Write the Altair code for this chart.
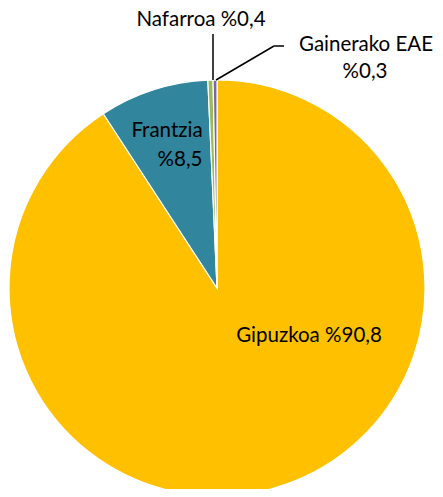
import altair as alt
import pandas as pd

regions = ["Gipuzkoa", "Frantzia", "Nafarroa", "Gainerako EAE"]
shares = [90.8, 8.5, 0.4, 0.3]
colors = ["#FFC000", "#31859C", "#9BBB59", "#8064A2"]

df = pd.DataFrame({"region": regions, "share": shares, "ord": list(range(len(regions)))})

W, H = 427, 481
CX, CY, R = 209, 280, 208

pie = alt.Chart(df).mark_arc(outerRadius=R, stroke="white", strokeWidth=1.2).encode(
    theta=alt.Theta("share:Q", stack=True),
    order=alt.Order("ord:Q"),
    color=alt.Color("region:N", scale=alt.Scale(domain=regions, range=colors), legend=None),
    x=alt.value(CX), y=alt.value(CY),
)

font = "Lato"
fs = 20.5

def fmt(v):
    return "%" + str(v).replace(".", ",")

def label(txt, x, y, align="center", baseline="middle"):
    return alt.Chart(pd.DataFrame({"t": [txt]})).mark_text(
        font=font, fontSize=fs, color="black", align=align, baseline=baseline
    ).encode(text="t:N", x=alt.value(x), y=alt.value(y))

lab_g = label(f"{regions[0]} {fmt(shares[0])}", 301, 328)
lab_f1 = label(regions[1], 159, 123)
lab_f2 = label(fmt(shares[1]), 172, 152)
lab_n = label(f"{regions[2]} {fmt(shares[2])}", 193, 2, baseline="top")
lab_e1 = label(regions[3], 358, 37)
lab_e2 = label(fmt(shares[3]), 357, 64)

def seg(x1, y1, x2, y2):
    return alt.Chart(pd.DataFrame({"a": [0]})).mark_rule(color="black", strokeWidth=1.5).encode(
        x=alt.value(x1), y=alt.value(y1), x2=alt.value(x2), y2=alt.value(y2)
    )

lines = seg(205, 26, 205, 72) + seg(208, 72, 266, 38) + seg(266, 38, 276, 38)

chart = alt.layer(pie, lines, lab_g, lab_f1, lab_f2, lab_n, lab_e1, lab_e2).properties(
    width=W, height=H, autosize=alt.AutoSizeParams(type="none"), padding=0
).configure_view(stroke=None)

chart.save("out.html", embed_options={"renderer": "svg", "actions": False})
